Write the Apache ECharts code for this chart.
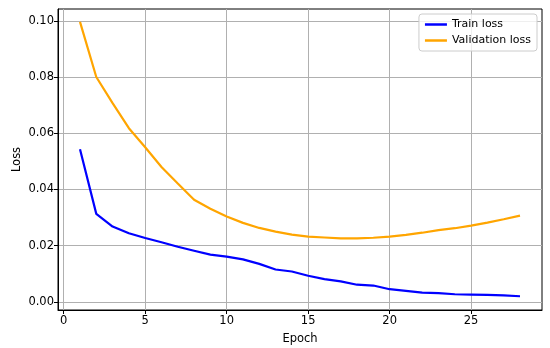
<!DOCTYPE html>
<html><head><meta charset="utf-8">
<script src="https://cdn.jsdelivr.net/npm/echarts@6/dist/echarts.min.js"></script>
<style>html,body{margin:0;padding:0;background:#fff}#c{width:550px;height:348px}</style>
</head><body><div id="c"></div>
<script>
const epochs = [1,2,3,4,5,6,7,8,9,10,11,12,13,14,15,16,17,18,19,20,21,22,23,24,25,26,27,28];
const trainLoss = [0.0543,0.0313,0.0268,0.0244,0.0227,0.0212,0.0196,0.0182,0.0168,0.0161,0.0151,0.0135,0.0115,0.0108,0.0093,0.0081,0.0073,0.0061,0.0058,0.0045,0.0039,0.0033,0.0031,0.0027,0.0026,0.0025,0.0023,0.0020];
const valLoss = [0.0996,0.0800,0.0707,0.0618,0.0550,0.0480,0.0421,0.0363,0.0331,0.0304,0.0281,0.0263,0.0250,0.0239,0.0232,0.0229,0.0226,0.0226,0.0228,0.0232,0.0238,0.0246,0.0255,0.0262,0.0271,0.0282,0.0294,0.0307];
const xTicks = [0,5,10,15,20,25];
const yTicks = [0,0.02,0.04,0.06,0.08,0.10];
const seriesNames = ['Train loss','Validation loss'];

const font = 'DejaVu Sans';
const chart = echarts.init(document.getElementById('c'), null, {renderer:'canvas'});
chart.setOption({
  animation:false,
  grid:{left:58,right:8,top:9,bottom:38,show:true,borderColor:'#000',borderWidth:1,backgroundColor:'transparent',containLabel:false,outerBoundsMode:'none'},
  legend:{
    orient:'vertical', right:13, top:14, data:seriesNames,
    icon:'rect', itemWidth:22, itemHeight:2.5, itemGap:5,
    textStyle:{fontFamily:font,fontSize:11,color:'#000'},
    backgroundColor:'rgba(255,255,255,0.8)', borderColor:'#cccccc', borderWidth:1, borderRadius:3,
    padding:[5,6,5,6]
  },
  xAxis:{
    type:'value', min:-0.35, max:29.35,
    name:'Epoch', nameLocation:'middle', nameGap:23, nameMoveOverlap:false,
    nameTextStyle:{fontFamily:font,fontSize:11.5,color:'#000'},
    axisLine:{show:true,onZero:false,lineStyle:{color:'#000',width:1}},
    axisTick:{show:true,inside:false,length:4,customValues:xTicks,lineStyle:{color:'#000'}},
    axisLabel:{customValues:xTicks,fontFamily:font,fontSize:11.5,color:'#000',margin:5,formatter:v=>String(v)},
    splitLine:{show:true,lineStyle:{color:'#b0b0b0',width:1}}
  },
  yAxis:{
    type:'value', min:-0.0029, max:0.1042,
    name:'Loss', nameLocation:'middle', nameGap:41, nameRotate:90, nameMoveOverlap:false,
    nameTextStyle:{fontFamily:font,fontSize:11.5,color:'#000',verticalAlign:'middle'},
    axisLine:{show:true,onZero:false,lineStyle:{color:'#000',width:1}},
    axisTick:{show:true,inside:false,length:4,customValues:yTicks,lineStyle:{color:'#000'}},
    axisLabel:{customValues:yTicks,fontFamily:font,fontSize:11.5,color:'#000',margin:4,formatter:v=>v.toFixed(2)},
    splitLine:{show:true,lineStyle:{color:'#b0b0b0',width:1}}
  },
  series:[
    {name:seriesNames[0],type:'line',data:epochs.map((e,i)=>[e,trainLoss[i]]),showSymbol:false,lineStyle:{color:'#0000ff',width:2.2},itemStyle:{color:'#0000ff'}},
    {name:seriesNames[1],type:'line',data:epochs.map((e,i)=>[e,valLoss[i]]),showSymbol:false,lineStyle:{color:'#ffa500',width:2.2},itemStyle:{color:'#ffa500'}}
  ]
});
</script></body></html>
